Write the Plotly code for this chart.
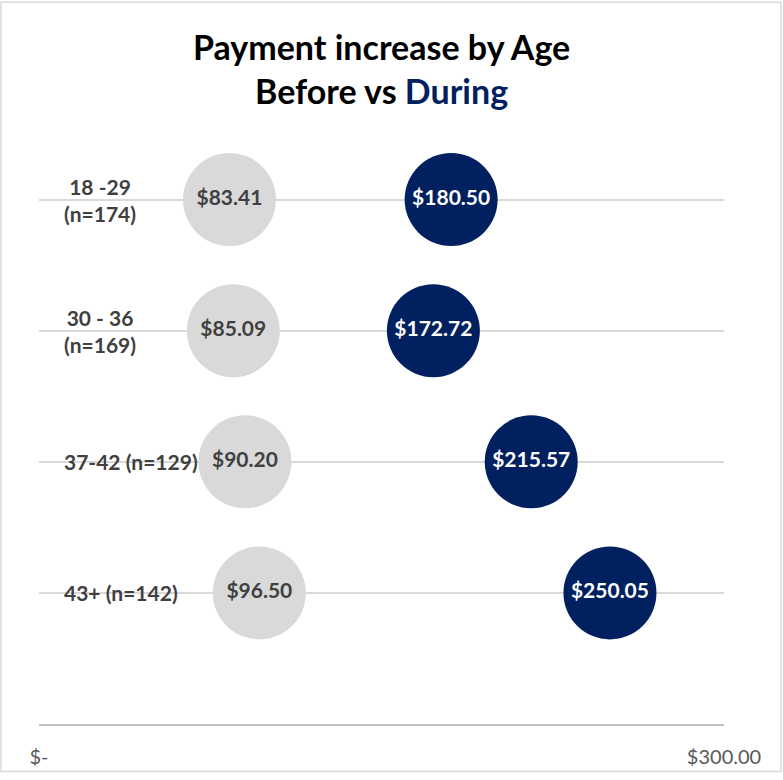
import plotly.graph_objects as go

# ---- data ----
categories = ["18 -29<br>(n=174)", "30 - 36<br>(n=169)", "37-42 (n=129)", "43+ (n=142)"]
row_pos = [4, 3, 2, 1]
before = [83.41, 85.09, 90.20, 96.50]
during = [180.50, 172.72, 215.57, 250.05]
x_tickvals = [0, 300]
x_ticktext = ["$-", "$300.00"]

GRAY = "#D9D9D9"
NAVY = "#002060"
FONT = "Lato"

W, H = 783, 780
ML, MR, MT, MB = 39, 59, 134, 50
pw = W - ML - MR
ph = H - MT - MB

def py2paper(py):
    return (H - MB - py) / ph

def px2paper(px):
    return (px - ML) / pw

fig = go.Figure()
fig.add_trace(go.Scatter(
    x=before, y=row_pos, mode="markers+text",
    marker=dict(size=93, color=GRAY, line=dict(width=0)),
    text=[f"<b>${v:.2f}</b>" for v in before], textposition="middle center",
    textfont=dict(family=FONT, size=21, color="#404040"),
    cliponaxis=False, showlegend=False, hoverinfo="skip"))
fig.add_trace(go.Scatter(
    x=during, y=row_pos, mode="markers+text",
    marker=dict(size=93, color=NAVY, line=dict(width=0)),
    text=[f"<b>${v:.2f}</b>" for v in during], textposition="middle center",
    textfont=dict(family=FONT, size=21, color="white"),
    cliponaxis=False, showlegend=False, hoverinfo="skip"))

label_x = (62 - ML) / pw * 300
for cat, yv in zip(categories, row_pos):
    fig.add_annotation(x=label_x, y=yv, xref="x", yref="y", text=f"<b>{cat}</b>",
                       xanchor="left", yanchor="middle", align="center",
                       showarrow=False,
                       font=dict(family=FONT, size=21, color="#404040"))

# title
fig.add_annotation(x=0.5, y=py2paper(46), xref="paper", yref="paper", text="<b>Payment increase by Age</b>",
                   showarrow=False, xanchor="center", yanchor="middle",
                   font=dict(family=FONT, size=34, color="black"))
fig.add_annotation(x=0.5, y=py2paper(90), xref="paper", yref="paper",
                   text="<b>Before vs <span style='color:#002060'>During</span></b>",
                   showarrow=False, xanchor="center", yanchor="middle",
                   font=dict(family=FONT, size=34, color="black"))

fig.add_shape(type="rect", xref="paper", yref="paper",
              x0=px2paper(1), x1=px2paper(781),
              y0=py2paper(778), y1=py2paper(1),
              line=dict(color="#D9D9D9", width=1.5), layer="below")

fig.update_layout(
    width=W, height=H, margin=dict(l=ML, r=MR, t=MT, b=MB, pad=0),
    paper_bgcolor="white", plot_bgcolor="white",
    xaxis=dict(range=[0, 300], tickvals=x_tickvals, ticktext=x_ticktext,
               showgrid=False, zeroline=False, showline=True, linecolor="#BFBFBF",
               linewidth=2, ticks="", ticklabelstandoff=14,
               tickfont=dict(family=FONT, size=20, color="#595959"), fixedrange=True),
    yaxis=dict(range=[0, 4.5], tickvals=row_pos, showticklabels=False,
               showgrid=True, gridcolor="#D9D9D9", gridwidth=2, zeroline=False,
               showline=False, fixedrange=True),
)

fig.write_html("out.html")
